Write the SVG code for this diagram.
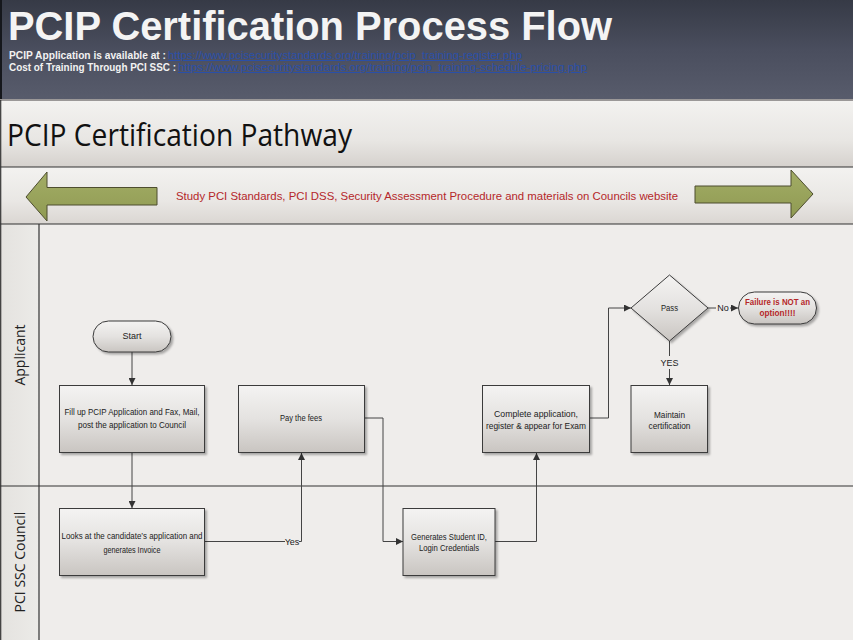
<svg xmlns="http://www.w3.org/2000/svg" width="853" height="640" viewBox="0 0 853 640">
<defs>
<linearGradient id="hdr" x1="0" y1="0" x2="0" y2="1">
<stop offset="0" stop-color="#363a46"/><stop offset="0.5" stop-color="#4a4e5e"/><stop offset="1" stop-color="#585c6c"/>
</linearGradient>
<linearGradient id="band1" x1="0" y1="0" x2="0" y2="1">
<stop offset="0" stop-color="#f3f2f0"/><stop offset="0.6" stop-color="#e8e6e3"/><stop offset="1" stop-color="#d5d1cd"/>
</linearGradient>
<linearGradient id="band2" x1="0" y1="0" x2="0" y2="1">
<stop offset="0" stop-color="#f3f2f0"/><stop offset="0.6" stop-color="#e9e7e4"/><stop offset="1" stop-color="#dad6d2"/>
</linearGradient>
<linearGradient id="lanecol" x1="0" y1="0" x2="1" y2="0">
<stop offset="0" stop-color="#e4e2df"/><stop offset="1" stop-color="#ecebe8"/>
</linearGradient>
<linearGradient id="node" x1="0" y1="0" x2="0" y2="1">
<stop offset="0" stop-color="#f4f3f2"/><stop offset="0.5" stop-color="#e4e2e0"/><stop offset="1" stop-color="#c9c5c1"/>
</linearGradient>
<linearGradient id="arr" x1="0" y1="0" x2="0" y2="1">
<stop offset="0" stop-color="#a3ad66"/><stop offset="1" stop-color="#8f9a52"/>
</linearGradient>
<marker id="ah" viewBox="0 0 10 10" refX="10" refY="5" markerWidth="7" markerHeight="7" markerUnits="userSpaceOnUse" orient="auto">
<path d="M0,0 L10,5 L0,10 z" fill="#333"/>
</marker>
<filter id="sh" x="-10%" y="-10%" width="130%" height="130%">
<feDropShadow dx="2" dy="2" stdDeviation="1.2" flood-color="#000" flood-opacity="0.3"/>
</filter>
</defs>
<style>
.nd{fill:url(#node);stroke:#3a3a3a;stroke-width:1;filter:url(#sh)}
.t{font-family:"Liberation Sans",Arial,sans-serif;font-size:9px;fill:#222;text-anchor:middle}
.c{fill:none;stroke:#444;stroke-width:1}
.lbl{font-family:"Liberation Sans",Arial,sans-serif;font-size:9px;fill:#222;text-anchor:middle}
.lane{font-family:"Open Sans","Liberation Sans",sans-serif;font-size:14px;fill:#222;text-anchor:middle}
</style>

<!-- background -->
<rect x="0" y="0" width="853" height="640" fill="#efedeb"/>

<!-- header -->
<g id="header">
<rect x="0" y="0" width="853" height="100" fill="url(#hdr)"/>
<rect x="0" y="0" width="2" height="100" fill="#15171c"/>
<line x1="0" y1="100" x2="853" y2="100" stroke="#9b9898" stroke-width="2"/>
<text x="8" y="39.5" font-family="Liberation Sans,Arial,sans-serif" font-weight="bold" font-size="41" fill="#f4f4f4" textLength="604" lengthAdjust="spacingAndGlyphs">PCIP Certification Process Flow</text>
<text x="9" y="59" font-family="Liberation Sans,Arial,sans-serif" font-weight="bold" font-size="10" fill="#f2f2f2" textLength="157" lengthAdjust="spacingAndGlyphs">PCIP Application is available at :</text>
<text x="168" y="59" font-family="Liberation Sans,Arial,sans-serif" font-size="10" fill="#2a4fa8" text-decoration="underline" textLength="354" lengthAdjust="spacingAndGlyphs">https://www.pcisecuritystandards.org/training/pcip_training-register.php</text>
<text x="9" y="71" font-family="Liberation Sans,Arial,sans-serif" font-weight="bold" font-size="10" fill="#f2f2f2" textLength="167" lengthAdjust="spacingAndGlyphs">Cost of Training Through PCI SSC :</text>
<text x="178" y="71" font-family="Liberation Sans,Arial,sans-serif" font-size="10" fill="#2a4fa8" text-decoration="underline" textLength="409" lengthAdjust="spacingAndGlyphs">https://www.pcisecuritystandards.org/training/pcip_training-schedule-pricing.php</text>
</g>

<!-- pathway band -->
<g id="pathway">
<rect x="0" y="101" width="853" height="66" fill="url(#band1)"/>
<text x="7" y="146" font-family="Open Sans,Liberation Sans,sans-serif" font-size="31" fill="#111" textLength="345" lengthAdjust="spacingAndGlyphs">PCIP Certification Pathway</text>
</g>

<!-- study band -->
<g id="study">
<rect x="0" y="167" width="853" height="57" fill="url(#band2)"/>
<polygon points="26,197 47,172 47,187.5 157,187.5 157,205 47,205 47,221" fill="url(#arr)" stroke="#4d4d2e" stroke-width="1"/>
<polygon points="813,194 791,170 791,186 695,186 695,203 791,203 791,218" fill="url(#arr)" stroke="#4d4d2e" stroke-width="1"/>
<text x="427" y="199.5" font-family="Liberation Sans,Arial,sans-serif" font-size="11.5" fill="#b5272a" text-anchor="middle" textLength="502" lengthAdjust="spacingAndGlyphs">Study PCI Standards, PCI DSS, Security Assessment Procedure and materials on Councils website</text>
</g>

<!-- swimlanes -->
<g id="lanes">
<rect x="0" y="224" width="39" height="416" fill="url(#lanecol)"/>
<line x1="0" y1="167" x2="853" y2="167" stroke="#333" stroke-width="1.2"/>
<line x1="0" y1="224" x2="853" y2="224" stroke="#333" stroke-width="1.2"/>
<line x1="0" y1="486" x2="853" y2="486" stroke="#333" stroke-width="1.2"/>
<line x1="39" y1="224" x2="39" y2="640" stroke="#333" stroke-width="1.2"/>
<line x1="0.7" y1="100" x2="0.7" y2="640" stroke="#333" stroke-width="1.2"/>
<text class="lane" transform="translate(25,355) rotate(-90)">Applicant</text>
<text class="lane" transform="translate(25,562) rotate(-90)">PCI SSC Council</text>
</g>

<!-- connectors -->
<g id="connectors">
<path class="c" d="M132,352 V385" marker-end="url(#ah)"/>
<path class="c" d="M132,453 V508" marker-end="url(#ah)"/>
<path class="c" d="M205,541.5 H285 M299,541.5 H301.5 V453" marker-end="url(#ah)"/>
<path class="c" d="M364,418 H383 V541.5 H403" marker-end="url(#ah)"/>
<path class="c" d="M495,541.5 H536.5 V453" marker-end="url(#ah)"/>
<path class="c" d="M590,418 H608.5 V308 H631" marker-end="url(#ah)"/>
<path class="c" d="M708,308 H716 M730,308 H738" marker-end="url(#ah)"/>
<path class="c" d="M669.5,341 V356 M669.5,369 V385" marker-end="url(#ah)"/>
<text class="lbl" x="292" y="545">Yes</text>
<text class="lbl" x="723" y="311">No</text>
<text class="lbl" x="669.5" y="366">YES</text>
</g>

<!-- nodes -->
<g id="start">
<rect class="nd" x="93" y="321" width="78" height="31" rx="15.5" ry="15.5"/>
<text class="t" x="132" y="339">Start</text>
</g>
<g id="fillup">
<rect class="nd" x="59.5" y="385.5" width="145" height="67"/>
<text class="t" x="132" y="415" textLength="135" lengthAdjust="spacingAndGlyphs">Fill up PCIP Application and Fax, Mail,</text>
<text class="t" x="132" y="428" textLength="108" lengthAdjust="spacingAndGlyphs">post the application to Council</text>
</g>
<g id="payfees">
<rect class="nd" x="238.5" y="385.5" width="126" height="67"/>
<text class="t" x="301" y="421" textLength="42" lengthAdjust="spacingAndGlyphs">Pay the fees</text>
</g>
<g id="complete">
<rect class="nd" x="482.5" y="385.5" width="107" height="67"/>
<text class="t" x="536" y="417" textLength="84" lengthAdjust="spacingAndGlyphs">Complete application,</text>
<text class="t" x="536" y="428.5" textLength="100" lengthAdjust="spacingAndGlyphs">register &amp; appear for Exam</text>
</g>
<g id="pass">
<polygon class="nd" points="669.5,275 708,308 669.5,341 631,308"/>
<text class="t" x="669.5" y="311" textLength="17" lengthAdjust="spacingAndGlyphs">Pass</text>
</g>
<g id="failure">
<rect class="nd" x="738.5" y="292" width="78" height="32" rx="16" ry="16"/>
<text class="t" x="777.5" y="305" font-weight="bold" style="fill:#b5272a" textLength="65" lengthAdjust="spacingAndGlyphs">Failure is NOT an</text>
<text class="t" x="777.5" y="316" font-weight="bold" style="fill:#b5272a" textLength="36" lengthAdjust="spacingAndGlyphs">option!!!!</text>
</g>
<g id="maintain">
<rect class="nd" x="631" y="385.5" width="76.5" height="67"/>
<text class="t" x="669.5" y="417.5" textLength="31" lengthAdjust="spacingAndGlyphs">Maintain</text>
<text class="t" x="669.5" y="428.5" textLength="42" lengthAdjust="spacingAndGlyphs">certification</text>
</g>
<g id="looks">
<rect class="nd" x="59.5" y="508.5" width="145" height="67"/>
<text class="t" x="132" y="539" textLength="141" lengthAdjust="spacingAndGlyphs">Looks at the candidate’s application and</text>
<text class="t" x="132" y="553" textLength="57" lengthAdjust="spacingAndGlyphs">generates Invoice</text>
</g>
<g id="generates">
<rect class="nd" x="403" y="508.5" width="92" height="67"/>
<text class="t" x="449" y="539.5" textLength="76" lengthAdjust="spacingAndGlyphs">Generates Student ID,</text>
<text class="t" x="449" y="551" textLength="60" lengthAdjust="spacingAndGlyphs">Login Credentials</text>
</g>
</svg>
